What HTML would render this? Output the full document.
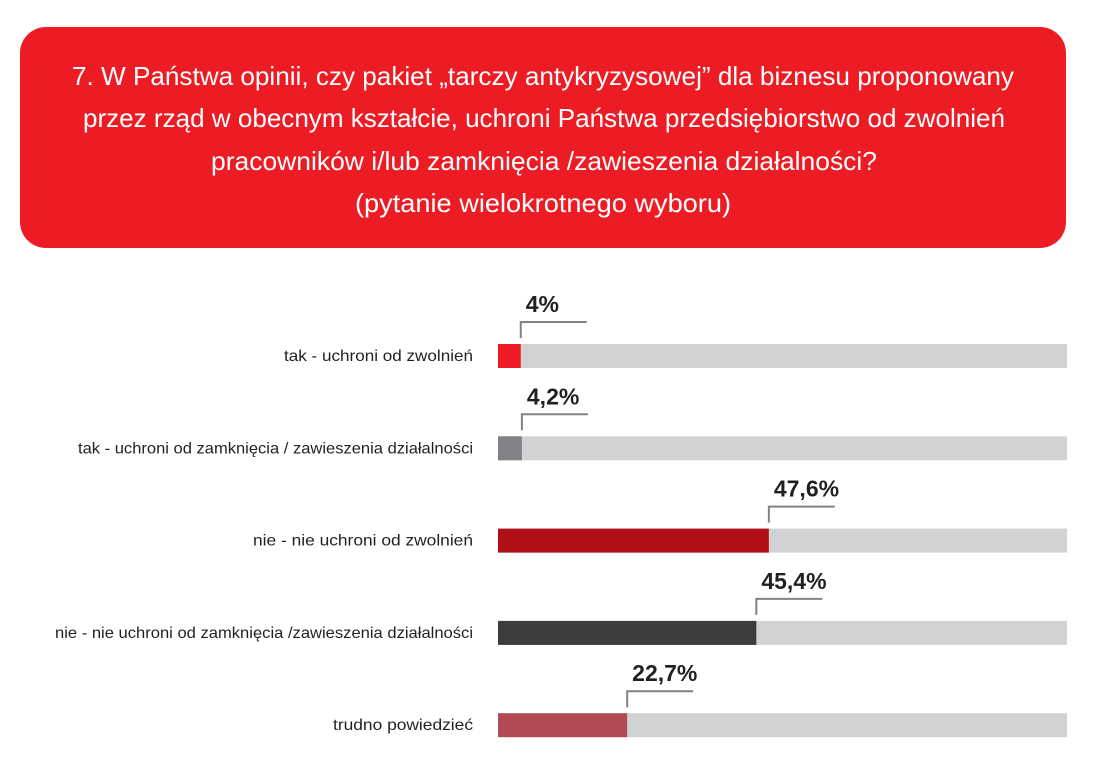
<!DOCTYPE html>
<html><head><meta charset="utf-8"><style>
html,body{margin:0;padding:0;background:#fff;}
svg{display:block;}
</style></head><body>
<svg width="1114" height="784" viewBox="0 0 1114 784" font-family="'Liberation Sans Narrow','Liberation Sans',sans-serif">
<rect x="20" y="27" width="1046" height="221" rx="26" fill="#ed1c24"/>
<g fill="#fff" font-size="26" text-anchor="middle">
<text x="543" y="85" textLength="942" lengthAdjust="spacingAndGlyphs">7. W Państwa opinii, czy pakiet „tarczy antykryzysowej” dla biznesu proponowany</text>
<text x="544" y="127" textLength="922" lengthAdjust="spacingAndGlyphs">przez rząd w obecnym kształcie, uchroni Państwa przedsiębiorstwo od zwolnień</text>
<text x="544" y="170" textLength="666" lengthAdjust="spacingAndGlyphs">pracowników i/lub zamknięcia /zawieszenia działalności?</text>
<text x="543" y="212" textLength="376" lengthAdjust="spacingAndGlyphs">(pytanie wielokrotnego wyboru)</text>
</g>
<g id="bars"></g>
</svg>
<script>
const categories=["tak - uchroni od zwolnień","tak - uchroni od zamknięcia / zawieszenia działalności","nie - nie uchroni od zwolnień","nie - nie uchroni od zamknięcia /zawieszenia działalności","trudno powiedzieć"];
const values=[4,4.2,47.6,45.4,22.7];
const valueLabels=["4%","4,2%","47,6%","45,4%","22,7%"];
const colors=["#ed1c24","#808285","#b00f15","#3c3c3c","#b24a55"];
const labelWidths=[189,395,220,418,140];
const NS="http://www.w3.org/2000/svg";
const g=document.getElementById('bars');
const x0=498,x1=1067;
const xs=v=>x0+(x1-x0)*v/100;
const ys=i=>344+i*92.3;
function mk(t,a){const e=document.createElementNS(NS,t);for(const k in a)e.setAttribute(k,a[k]);g.appendChild(e);return e;}
categories.forEach((c,i)=>{
  const y=ys(i);
  const tr=mk('rect',{x:x0,y:y,width:x1-x0,height:24,fill:'#d1d2d4'});
  
  
  const xe=xs(values[i]);
  const b=mk('rect',{x:x0,y:y,width:xe-x0,height:24,fill:colors[i]});
  
  
  const l=mk('text',{x:473,y:y+17,'font-size':16,'text-anchor':'end',fill:'#231f20',textLength:labelWidths[i],lengthAdjust:'spacingAndGlyphs'});
  l.textContent=c;
  
  
  const p=mk('path',{d:`M${xe},${y-6}V${y-22}H${xe+66}`,fill:'none',stroke:'#808285','stroke-width':2});
  
  
  const v=mk('text',{x:xe+5,y:y-32,'font-size':23,'font-weight':'bold',fill:'#231f20'});
  v.textContent=valueLabels[i];
  
  
});
</script>
</body></html>
